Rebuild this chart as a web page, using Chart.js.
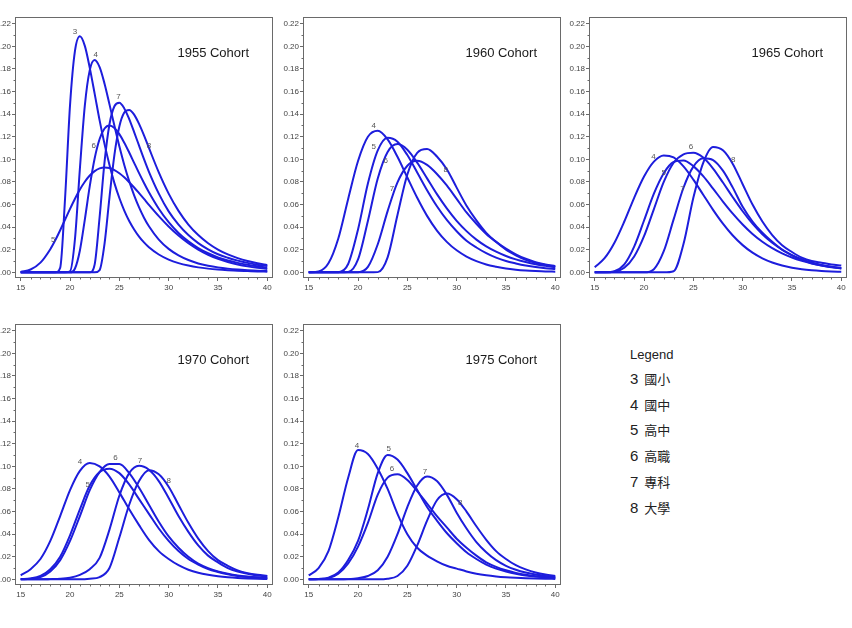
<!DOCTYPE html>
<html>
<head>
<meta charset="utf-8">
<script src="https://cdn.jsdelivr.net/npm/chart.js@4/dist/chart.umd.min.js"></script>
<style>
  html, body { margin: 0; padding: 0; background: #fff; }
  body { width: 852px; height: 628px; position: relative; overflow: hidden; font-family: "Liberation Sans", Arial, sans-serif; }
  canvas { position: absolute; }
  #legend { position: absolute; left: 630px; top: 0; color: #222; }
  #legend div { position: absolute; left: 0; white-space: nowrap; line-height: 18px; }
  #legend .zh { font-family: "Noto Sans CJK TC", "Noto Sans CJK SC", sans-serif; font-size: 13px; margin-left: 6px; }
</style>
</head>
<body>
<canvas id="p1955" width="286" height="283"></canvas>
<canvas id="p1960" width="286" height="283"></canvas>
<canvas id="p1965" width="286" height="283"></canvas>
<canvas id="p1970" width="286" height="283"></canvas>
<canvas id="p1975" width="286" height="283"></canvas>
<div id="legend"></div>
<script>
// education levels and legend names
const levels = ['3', '4', '5', '6', '7', '8'];
const levelNames = ['國小', '國中', '高中', '高職', '專科', '大學'];
const xTicks = [15, 20, 25, 30, 35, 40];
const yTicks = [0, 0.02, 0.04, 0.06, 0.08, 0.10, 0.12, 0.14, 0.16, 0.18, 0.20, 0.22];

// ages (finer steps for the 1955 cohort, its curves rise very fast)
const ages55 = [15, 16, 17, 18, 18.5, 19, 19.5, 20, 20.5, 21, 21.5, 22, 22.5, 23, 23.5, 24, 24.5, 25, 25.5, 26, 26.5, 27, 27.5, 28,
  29, 30, 31, 32, 33, 34, 35, 36, 37, 38, 39, 40];
const ages = [15, 16, 17, 18, 19, 20, 21, 22, 23, 24, 25, 26, 27, 28, 29, 30, 31, 32, 33, 34, 35, 36, 37, 38, 39, 40];

// 1955 cohort
const c55_3 = [0, 0, 0, 0, 0, .004, .066, .148, .196, .209, .2005, .181, .158, .1345, .1135, .095, .079, .0658, .0547, .0455, .038, .0317, .0265, .0222,
  .0158, .0113, .0082, .006, .0044, .0033, .0025, .0019, .0014, .0011, .0008, .0006];
const c55_4 = [0, 0, 0, 0, 0, 0, 0, .0009, .0295, .0918, .1476, .179, .188, .1817, .167, .1487, .1297, .1116, .0951, .0807, .0681, .0575, .0484, .0408,
  .029, .0208, .015, .0109, .0079, .0059, .0044, .0033, .0025, .0019, .0014, .0011];
const c55_5 = [.0004, .0025, .0086, .0205, .0284, .0373, .0467, .0562, .0652, .0733, .0802, .0857, .0896, .092, .0928, .0923, .0905, .0877, .0841, .0798, .0751, .0701, .065, .0598,
  .0498, .0406, .0326, .0258, .0202, .0156, .012, .0092, .007, .0053, .004, .003];
const c55_6 = [0, 0, 0, 0, 0, 0, 0, 0, .0034, .0194, .0467, .0763, .101, .118, .1273, .130, .1278, .1223, .1148, .1061, .0969, .0878, .0791, .0709,
  .0563, .0444, .0349, .0274, .0215, .0169, .0133, .0105, .0084, .0067, .0053, .0043];
const c55_7 = [0, 0, 0, 0, 0, 0, 0, 0, 0, 0, 0, 0, .0071, .049, .0978, .1311, .147, .1501, .1451, .1357, .1242, .1121, .1002, .089,
  .0697, .054, .0423, .033, .0259, .0204, .016, .0129, .0104, .0084, .0068, .0056];
const c55_8 = [0, 0, 0, 0, 0, 0, 0, 0, 0, 0, 0, 0, 0, .002, .0254, .0664, .104, .1291, .1414, .1438, .1396, .1314, .1212, .1101,
  .0885, .0697, .0544, .0423, .033, .0258, .0202, .0159, .0126, .01, .008, .0064];

// 1960 cohort
const c60_4 = [0, .0008, .008, .030, .065, .0985, .120, .1253, .1177, .1023, .084, .066, .050, .037, .027, .0195, .014, .010, .007, .005, .0034, .0024, .0017, .0012, .0008, .0006];
const c60_5 = [0, 0, 0, .0001, .0074, .038, .0787, .108, .1192, .1157, .1038, .0884, .0727, .0585, .0464, .0364, .028, .022, .017, .013, .010, .0079, .0061, .0047, .0037, .0029];
const c60_6 = [0, 0, 0, 0, .0003, .0114, .0455, .0831, .1066, .1136, .1086, .0971, .0832, .0692, .0566, .0456, .0365, .029, .023, .0183, .0145, .0115, .0091, .0072, .0058, .0046];
const c60_7 = [0, 0, 0, 0, 0, .0001, .0048, .0249, .0542, .0796, .0944, .0987, .0951, .0871, .0769, .065, .053, .043, .034, .027, .021, .016, .012, .009, .007, .0055];
const c60_8 = [0, 0, 0, 0, 0, 0, 0, .0002, .0133, .0508, .0866, .1058, .1092, .1026, .0912, .075, .059, .046, .035, .027, .020, .015, .011, .0085, .0065, .005];

// 1965 cohort
const c65_4 = [.0046, .0125, .0262, .045, .066, .0848, .098, .1035, .1017, .0938, .0821, .0687, .0553, .0431, .0326, .0241, .0174, .0124, .0087, .006, .0041, .0027, .0018, .0012, .0008, .0005];
const c65_5 = [0, 0, .001, .0071, .0228, .0459, .0697, .0878, .0977, .0991, .094, .0851, .0741, .0627, .052, .0424, .034, .0271, .0214, .0168, .0131, .0102, .0079, .0061, .0047, .0037];
const c65_6 = [0, .0001, .0005, .004, .014, .032, .056, .080, .097, .1045, .1059, .1016, .0919, .0795, .0665, .0541, .0431, .0338, .0262, .0201, .0153, .0116, .0087, .0065, .0049, .0036];
const c65_7 = [0, 0, 0, 0, 0, 0, .0028, .0187, .0469, .0749, .0936, .101, .0994, .090, .075, .058, .045, .035, .027, .020, .015, .011, .008, .006, .0045, .0035];
const c65_8 = [0, 0, 0, 0, 0, 0, 0, 0, .001, .025, .066, .097, .111, .108, .096, .078, .060, .045, .033, .024, .018, .013, .010, .0085, .007, .006];

// 1970 cohort
const c70_4 = [.0035, .009, .018, .034, .056, .079, .096, .103, .100, .091, .077, .062, .048, .035, .025, .018, .0125, .0085, .0058, .004, .0027, .0018, .0012, .0008, .0005, .0003];
const c70_5 = [.0002, .0008, .003, .009, .020, .039, .062, .083, .095, .098, .094, .084, .071, .058, .045, .034, .025, .018, .013, .009, .0065, .0045, .003, .002, .0015, .001];
const c70_6 = [.0001, .0005, .002, .007, .017, .034, .056, .079, .095, .102, .102, .094, .081, .066, .051, .038, .028, .020, .014, .010, .007, .005, .0035, .0025, .0018, .0013];
const c70_7 = [0, 0, 0, .0002, .0005, .0015, .004, .009, .019, .044, .074, .094, .1005, .097, .087, .072, .056, .042, .030, .021, .015, .010, .007, .005, .0035, .0025];
const c70_8 = [0, 0, 0, 0, 0, 0, 0, .0005, .002, .010, .037, .066, .087, .0966, .093, .082, .066, .050, .036, .025, .017, .012, .008, .0055, .004, .003];

// 1975 cohort
const c75_4 = [.0035, .010, .025, .055, .090, .1145, .111, .098, .080, .058, .040, .028, .021, .016, .012, .0095, .007, .005, .0036, .0026, .0019, .0014, .001, .0007, .0005, .0004];
const c75_5 = [0, .0003, .0015, .006, .017, .034, .062, .094, .110, .106, .094, .079, .064, .052, .041, .032, .024, .018, .013, .0095, .007, .005, .0035, .0025, .0018, .0012];
const c75_6 = [0, .0002, .001, .005, .014, .029, .050, .075, .090, .093, .088, .078, .067, .056, .046, .036, .028, .021, .015, .011, .008, .0057, .004, .0028, .002, .0014];
const c75_7 = [0, 0, 0, 0, .0002, .001, .003, .008, .020, .040, .064, .083, .091, .087, .075, .059, .045, .033, .024, .017, .012, .0085, .006, .0042, .003, .0021];
const c75_8 = [0, 0, 0, 0, 0, 0, 0, 0, .0005, .003, .012, .030, .052, .070, .076, .071, .060, .047, .035, .025, .018, .0125, .0088, .006, .0042, .003];

// where the level numbers sit on each panel (age, value)
const marks55 = [[20.5, .213], [22.6, .193], [18.3, .029], [22.4, .112], [24.9, .155], [28.0, .112]];
const marks60 = [[21.6, .130], [21.6, .111], [22.8, .0986], [23.45, .0737], [28.9, .0907]];
const marks65 = [[20.95, .102], [22.0, .0878], [24.75, .111], [23.9, .0737], [29.05, .100]];
const marks70 = [[21.0, .1037], [21.8, .084], [24.6, .1075], [27.1, .1052], [30.0, .087]];
const marks75 = [[19.9, .1183], [23.1, .1154], [23.45, .0979], [26.8, .0949], [30.35, .0678]];

const panels = [
  { id: 'p1955', title: '1955 Cohort', ages: ages55, series: [c55_3, c55_4, c55_5, c55_6, c55_7, c55_8], names: levels, marks: marks55, left: 15, top: 15 },
  { id: 'p1960', title: '1960 Cohort', ages: ages, series: [c60_4, c60_5, c60_6, c60_7, c60_8], names: levels.slice(1), marks: marks60, left: 303, top: 15 },
  { id: 'p1965', title: '1965 Cohort', ages: ages, series: [c65_4, c65_5, c65_6, c65_7, c65_8], names: levels.slice(1), marks: marks65, left: 589, top: 15 },
  { id: 'p1970', title: '1970 Cohort', ages: ages, series: [c70_4, c70_5, c70_6, c70_7, c70_8], names: levels.slice(1), marks: marks70, left: 15, top: 322 },
  { id: 'p1975', title: '1975 Cohort', ages: ages, series: [c75_4, c75_5, c75_6, c75_7, c75_8], names: levels.slice(1), marks: marks75, left: 303, top: 322 }
];

const FONT = '"Liberation Sans", Arial, sans-serif';
const LINE = '#1d1ddc';
const AXIS = '#6a6a6a';
const Y_AXIS_W = 24, PAD_TOP = 4;

// frame, minor ticks, level numbers and cohort title
const panelDeco = {
  id: 'panelDeco',
  afterDraw(chart, args, opts) {
    const { ctx, chartArea: a, scales: { x, y } } = chart;
    ctx.save();
    ctx.strokeStyle = AXIS;
    ctx.lineWidth = 1;
    const l = Math.round(a.left) + 0.5, t = Math.round(a.top) + 0.5;
    const r = Math.round(a.right) - 0.5, b = Math.round(a.bottom) - 0.5;
    ctx.strokeRect(l, t, r - l, b - t);

    // minor ticks
    ctx.beginPath();
    for (let v = 16; v < 40; v++) {
      if (v % 5 === 0) continue;
      const px = Math.round(x.getPixelForValue(v)) + 0.5;
      ctx.moveTo(px, b); ctx.lineTo(px, b + 2);
    }
    for (let k = 1; k < 22; k += 2) {
      const py = Math.round(y.getPixelForValue(k / 100)) + 0.5;
      ctx.moveTo(l, py); ctx.lineTo(l - 2, py);
    }
    ctx.stroke();

    ctx.fillStyle = '#555';
    ctx.font = '8px ' + FONT;
    ctx.textAlign = 'center';
    ctx.textBaseline = 'middle';
    opts.marks.forEach((m, i) => {
      ctx.fillText(opts.names[i], x.getPixelForValue(m[0]), y.getPixelForValue(m[1]));
    });

    ctx.fillStyle = '#1a1a1a';
    ctx.font = '13px ' + FONT;
    ctx.textAlign = 'right';
    ctx.fillText(opts.title, a.right - 24, a.top + 37);
    ctx.restore();
  }
};

function makePanel(p) {
  const canvas = document.getElementById(p.id);
  canvas.style.left = (p.left - Y_AXIS_W) + 'px';
  canvas.style.top = (p.top - PAD_TOP) + 'px';

  const datasets = p.series.map((vals, i) => ({
    label: p.names[i],
    data: p.ages.map((a, j) => ({ x: a, y: vals[j] })),
    borderColor: LINE,
    borderWidth: 2,
    pointRadius: 0,
    fill: false,
    cubicInterpolationMode: 'monotone'
  }));

  return new Chart(canvas, {
    type: 'line',
    data: { datasets },
    options: {
      responsive: false,
      animation: false,
      devicePixelRatio: 1,
      layout: { padding: { top: PAD_TOP, right: 4, left: 0, bottom: 0 } },
      plugins: {
        legend: { display: false },
        tooltip: { enabled: false },
        panelDeco: { marks: p.marks, names: p.names, title: p.title }
      },
      scales: {
        x: {
          type: 'linear',
          min: 14.42,
          max: 40.58,
          afterBuildTicks: s => { s.ticks = xTicks.map(v => ({ value: v })); },
          afterFit: s => { s.height = 16; },
          border: { display: false },
          grid: { drawOnChartArea: false, tickLength: 3, color: AXIS },
          ticks: { font: { size: 8, family: FONT }, color: '#444', padding: 2, maxRotation: 0, autoSkip: false }
        },
        y: {
          type: 'linear',
          min: -0.005,
          max: 0.2262,
          afterBuildTicks: s => { s.ticks = yTicks.map(v => ({ value: v })); },
          afterFit: s => { s.width = Y_AXIS_W; },
          border: { display: false },
          grid: { drawOnChartArea: false, tickLength: 3, color: AXIS },
          ticks: { font: { size: 8, family: FONT }, color: '#444', padding: 1, callback: v => v.toFixed(2) }
        }
      }
    },
    plugins: [panelDeco]
  });
}

panels.forEach(makePanel);

// legend
const legend = document.getElementById('legend');
const head = document.createElement('div');
head.textContent = 'Legend';
head.style.top = '346px';
head.style.fontSize = '13px';
legend.appendChild(head);
levels.forEach((lv, i) => {
  const row = document.createElement('div');
  row.style.top = (370 + i * 25.7) + 'px';
  row.style.fontSize = '15px';
  row.innerHTML = lv + '<span class="zh">' + levelNames[i] + '</span>';
  legend.appendChild(row);
});
</script>
</body>
</html>
